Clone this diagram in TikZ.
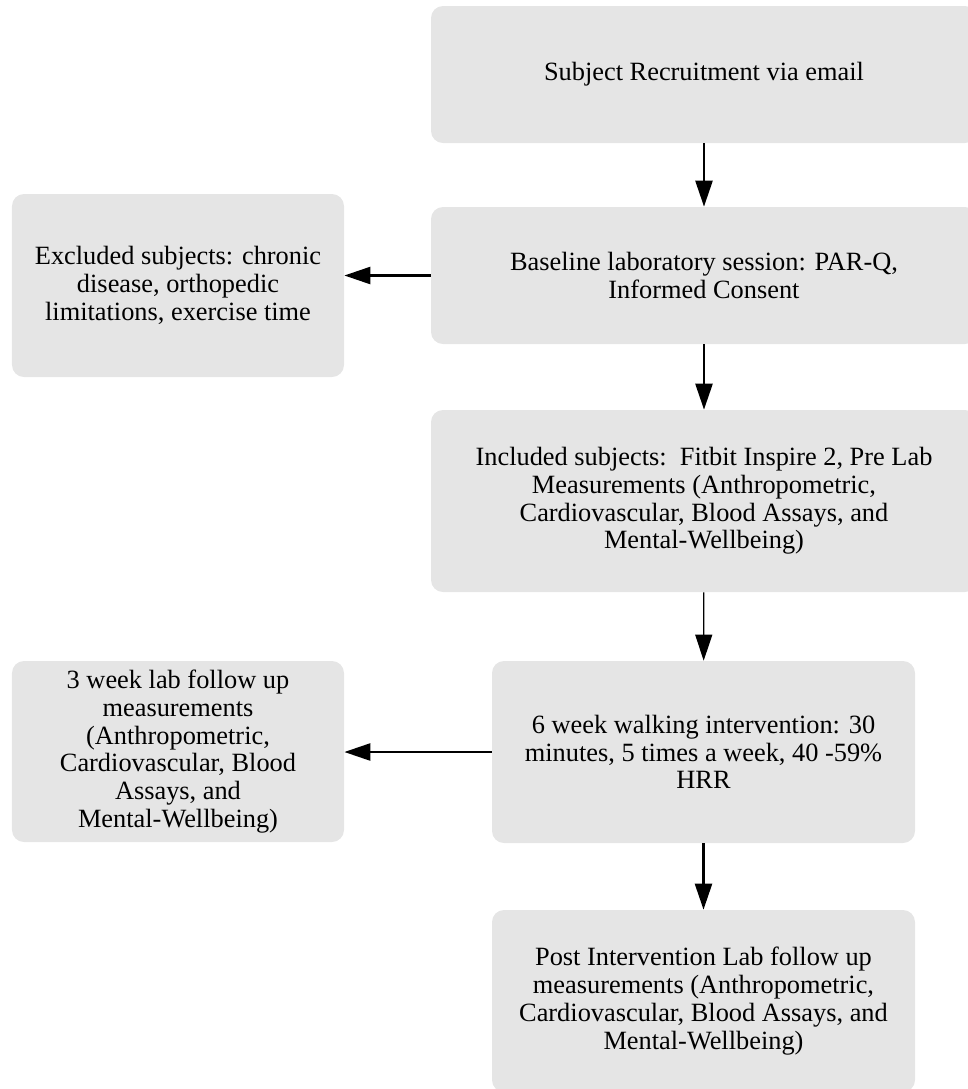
\documentclass[tikz,border=0pt]{standalone}
\usepackage{fontspec}
\setmainfont{Liberation Serif}
\usetikzlibrary{arrows.meta}

\begin{document}
\begin{tikzpicture}[>={Triangle[length=5.2mm,width=3.4mm]},line cap=butt,
  box/.style={fill=gray!20,rounded corners=2.4mm,align=center,inner sep=0pt,
    font=\fontsize{15}{15.8}\selectfont},
  flow/.style={->,line width=1.4pt},
  thinflow/.style={->,line width=0.7pt}]
\useasboundingbox (0,0) rectangle (19.36,-21.78);
\clip (0,0) rectangle (19.36,-21.78);
% main column
\node[box,minimum width=10.92cm,minimum height=2.74cm] (recruit) at (14.08,-1.49)
  {Subject Recruitment via email};
\node[box,minimum width=10.92cm,minimum height=2.74cm] (baseline) at (14.08,-5.51)
  {Baseline laboratory session: PAR-Q,\\ Informed Consent};
\node[box,minimum width=10.92cm,minimum height=3.64cm] (included) at (14.08,-10.02)
  {Included subjects:\ \ Fitbit Inspire 2, Pre Lab\\ Measurements (Anthropometric,\\
   Cardiovascular, Blood Assays, and\\ Mental-Wellbeing)};
\node[box,minimum width=8.46cm,minimum height=3.64cm] (walk) at (14.07,-15.04)
  {6 week walking intervention: 30\\ minutes, 5 times a week, 40 -59\%\\ HRR};
\node[box,minimum width=8.46cm,minimum height=3.64cm] (post) at (14.07,-20.02)
  {Post Intervention Lab follow up\\ measurements (Anthropometric,\\
   Cardiovascular, Blood Assays, and\\ Mental-Wellbeing)};
% side boxes
\node[box,minimum width=6.64cm,minimum height=3.66cm] (excluded) at (3.56,-5.71)
  {Excluded subjects: chronic\\ disease, orthopedic\\ limitations, exercise time};
\node[box,minimum width=6.64cm,minimum height=3.62cm] (threewk) at (3.56,-15.03)
  {3 week lab follow up\\ measurements\\ (Anthropometric,\\ Cardiovascular, Blood\\
   Assays, and\\ Mental-Wellbeing)};
% arrows
\draw[flow] (recruit) -- (baseline);
\draw[flow] (baseline) -- (included);
\draw[thinflow] (included) -- (walk);
\draw[flow] (walk) -- (post);
\draw[flow] (baseline.west) -- (excluded.east |- baseline.west);
\draw[flow] (walk.west) -- (threewk.east |- walk.west);
\end{tikzpicture}
\end{document}
